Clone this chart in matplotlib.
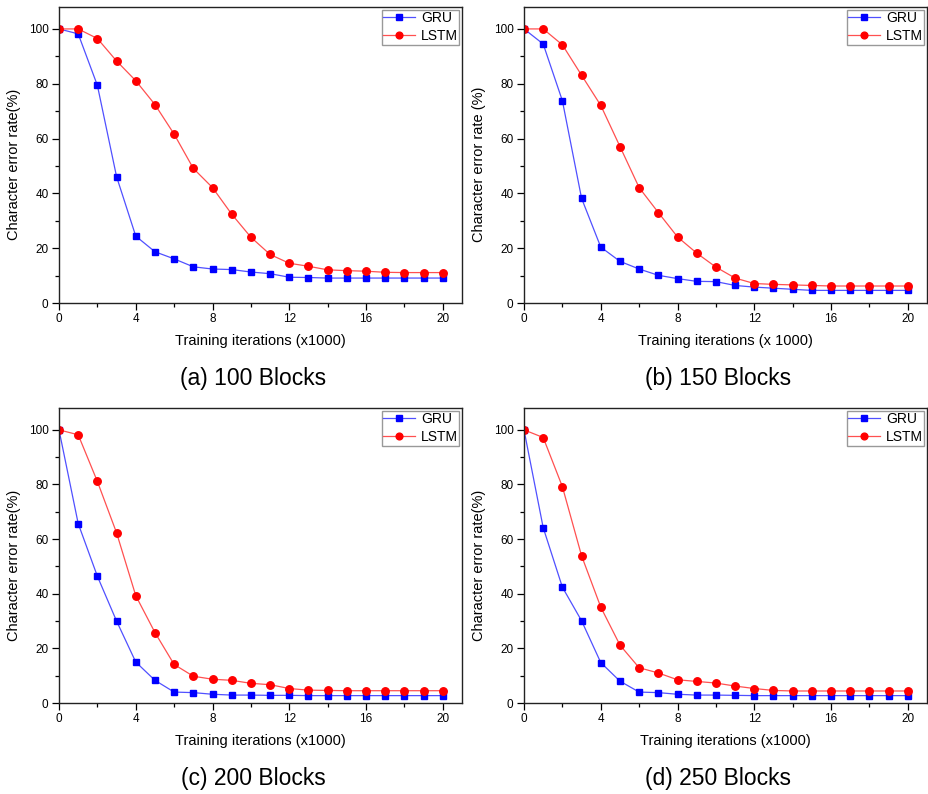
import numpy as np
import matplotlib
matplotlib.use("Agg")
import matplotlib.pyplot as plt
from matplotlib.ticker import MultipleLocator

plt.rcParams["font.family"] = ["Liberation Sans", "DejaVu Sans"]

#   training iterations (x1000)
iters = list(range(21))

#   character error rate (%)
gru_100 = [100, 98.2, 79.4, 46.1, 24.4, 18.7, 16.1, 13.2, 12.4, 12.2, 11.3,
           10.7, 9.4, 9.3, 9.1, 9.1, 9.1, 9.1, 9.1, 9.1, 9.1]
lstm_100 = [100, 100, 96.5, 88.3, 81.1, 72.4, 61.6, 49.1, 42.1, 32.4, 24.0,
            17.7, 14.5, 13.4, 12.1, 11.8, 11.6, 11.2, 11.1, 11.1, 11.1]

gru_150 = [100, 94.5, 73.8, 38.2, 20.4, 15.2, 12.4, 10.1, 8.9, 7.9, 7.8,
           6.4, 5.8, 5.4, 5.0, 4.6, 4.6, 4.6, 4.6, 4.6, 4.6]
lstm_150 = [100, 100, 94.2, 83.1, 72.1, 57.1, 42.1, 33.0, 24.1, 18.2, 13.1,
            9.1, 7.1, 6.8, 6.6, 6.4, 6.2, 6.2, 6.2, 6.2, 6.2]

gru_200 = [100, 65.7, 46.4, 30.0, 15.0, 8.3, 4.0, 3.8, 3.2, 2.9, 2.9,
           2.8, 2.8, 2.7, 2.7, 2.7, 2.7, 2.7, 2.7, 2.7, 2.7]
lstm_200 = [100, 98.2, 81.1, 62.3, 39.3, 25.8, 14.1, 9.8, 8.7, 8.3, 7.2,
            6.7, 5.3, 4.7, 4.6, 4.5, 4.5, 4.5, 4.5, 4.5, 4.5]

gru_250 = [100, 64.2, 42.4, 30.1, 14.8, 8.0, 4.0, 3.8, 3.2, 2.9, 2.9,
           2.8, 2.7, 2.7, 2.7, 2.7, 2.7, 2.7, 2.7, 2.7, 2.7]
lstm_250 = [100, 97.2, 79.2, 53.9, 35.1, 21.2, 12.9, 11.0, 8.5, 7.9, 7.3,
            6.2, 5.3, 4.6, 4.4, 4.4, 4.4, 4.4, 4.4, 4.4, 4.4]

captions = ["(a) 100 Blocks", "(b) 150 Blocks", "(c) 200 Blocks", "(d) 250 Blocks"]
xlabels = ["Training iterations (x1000)", "Training iterations (x 1000)",
           "Training iterations (x1000)", "Training iterations (x1000)"]
ylabels = ["Character error rate(%)", "Character error rate (%)",
           "Character error rate(%)", "Character error rate(%)"]
gru_all = [gru_100, gru_150, gru_200, gru_250]
lstm_all = [lstm_100, lstm_150, lstm_200, lstm_250]

W, H = 929, 794
fig = plt.figure(figsize=(W / 100, H / 100), dpi=100)

# axes boxes in pixels: left, top, right, bottom
boxes = [(59, 7, 462, 303), (524, 7, 927, 303),
         (59, 408, 462, 703), (524, 408, 927, 703)]

for i, (l, t, r, b) in enumerate(boxes):
    ax = fig.add_axes([l / W, 1 - b / H, (r - l) / W, (b - t) / H])
    ax.plot(iters, gru_all[i], color="#5050ff", lw=0.9, marker="s", ms=4.6,
            mfc="#0000ff", mec="#0000ff", label="GRU")
    ax.plot(iters, lstm_all[i], color="#ff5050", lw=0.9, marker="o", ms=5.4,
            mfc="#ff0000", mec="#ff0000", label="LSTM")

    ax.set_xlim(0, 21)
    ax.set_ylim(0, 108)
    ax.xaxis.set_major_locator(MultipleLocator(4))
    ax.xaxis.set_minor_locator(MultipleLocator(2))
    ax.yaxis.set_major_locator(MultipleLocator(20))
    ax.yaxis.set_minor_locator(MultipleLocator(10))
    ax.tick_params(which="major", direction="out", length=5, width=0.9,
                   labelsize=8.5, pad=2.5)
    ax.tick_params(which="minor", direction="out", length=3, width=0.9)
    for sp in ax.spines.values():
        sp.set_linewidth(1.0)
        sp.set_color("#222222")

    ax.set_xlabel(xlabels[i], fontsize=10.5)
    ax.xaxis.set_label_coords(0.5, -31 / (b - t))
    ax.set_ylabel(ylabels[i], fontsize=10.5)
    # label sits ~38 px left of the spine, centred a bit below the middle
    ax.yaxis.set_label_coords(-38 / (r - l), (b - t - 157) / (b - t))

    leg = ax.legend(loc="upper right", fontsize=10, frameon=True, fancybox=False,
                    edgecolor="#808080", borderaxespad=0.2, borderpad=0.1,
                    labelspacing=0.3, handlelength=2.3, handletextpad=0.4,
                    markerscale=0.9)
    leg.get_frame().set_linewidth(1.0)

    fig.text((l + r) / 2 / W - 7 / W, 1 - (b + 75) / H, captions[i],
             fontsize=16.5, ha="center", va="center")

fig.savefig("out.png", dpi=100)
